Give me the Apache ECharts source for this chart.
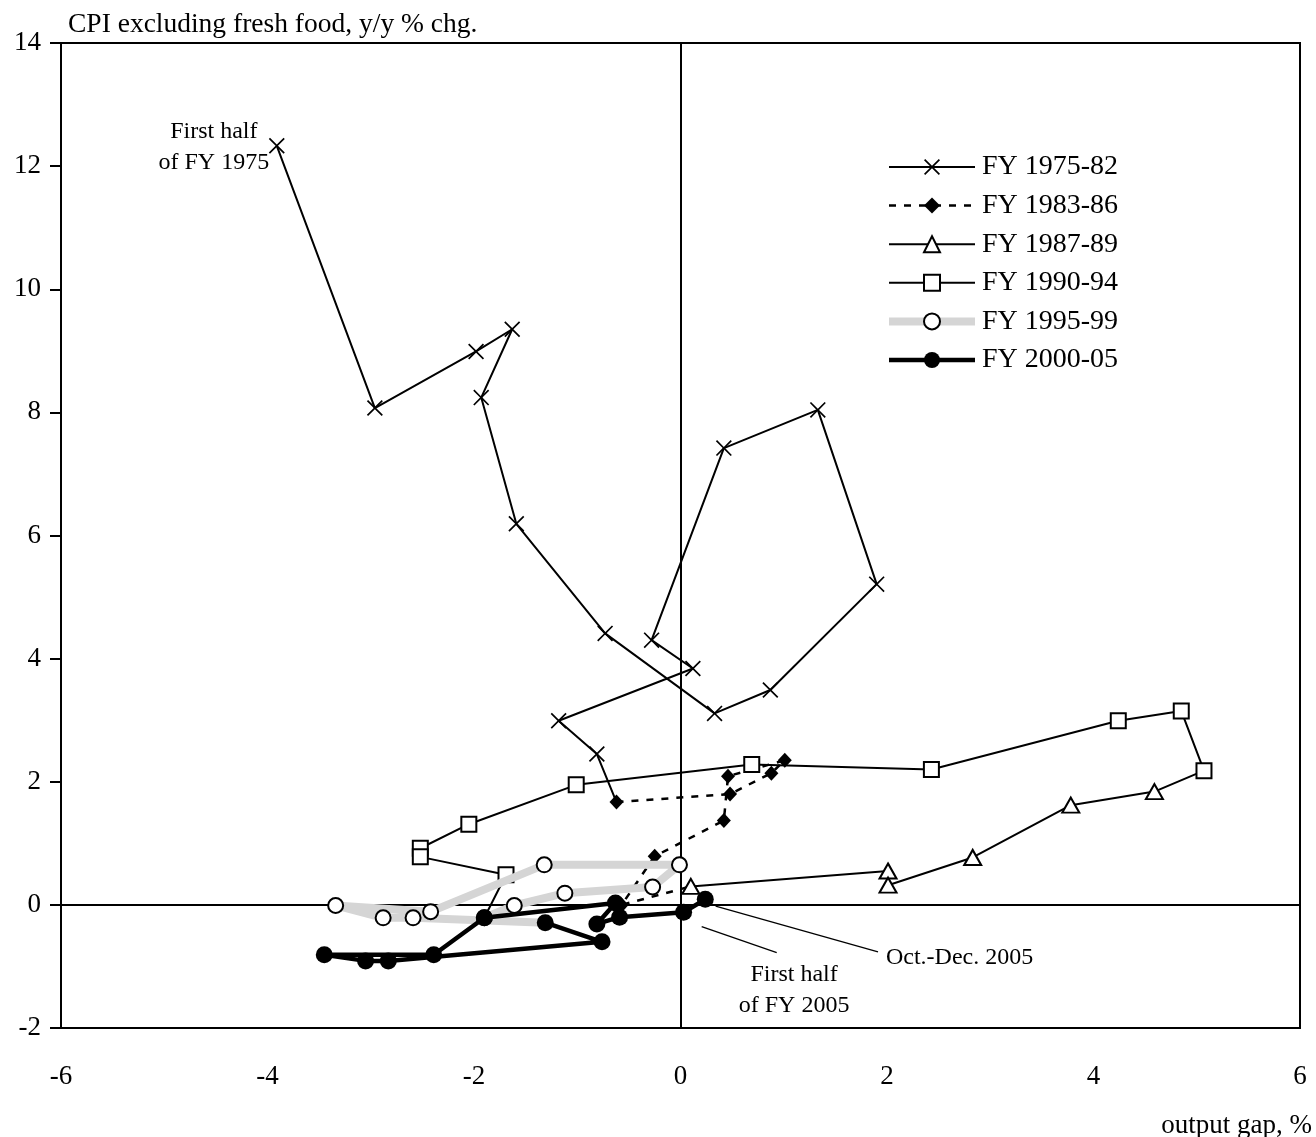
<!DOCTYPE html>
<html>
<head>
<meta charset="utf-8">
<script src="https://cdn.jsdelivr.net/npm/echarts@6/dist/echarts.min.js"></script>
<style>
html,body{margin:0;padding:0;background:#fff;}
#chart{width:1316px;height:1137px;}
</style>
</head>
<body>
<div id="chart"></div>
<script>
// ---- data (output gap %, CPI excl. fresh food y/y %) ----
const seriesNames = ['FY 1975-82','FY 1983-86','FY 1987-89','FY 1990-94','FY 1995-99','FY 2000-05'];
const fy7582_x = [-3.91,-2.96,-1.98,-1.63,-1.93,-1.59,-0.73,0.33,0.87,1.90,1.33,0.42,-0.28,0.12,-1.18,-0.81];
const fy7582_y = [12.33,8.07,8.99,9.35,8.24,6.19,4.41,3.11,3.49,5.21,8.04,7.42,4.30,3.84,2.99,2.45];
const fy8386_x = [-0.62,0.48,0.88,1.01,0.46,0.42,-0.25,-0.57];
const fy8386_y = [1.67,1.80,2.14,2.35,2.09,1.37,0.79,0.00];
const fy8789_x = [0.10,2.01,2.01,2.83,3.78,4.59];
const fy8789_y = [0.30,0.55,0.32,0.77,1.62,1.84];
const fy9094_x = [5.07,4.85,4.24,2.43,0.69,-1.01,-2.05,-2.52,-2.52,-1.69];
const fy9094_y = [2.18,3.15,2.99,2.20,2.28,1.95,1.31,0.92,0.78,0.49];
const fy9599_x = [-1.90,-1.61,-1.12,-0.27,-0.01,-1.32,-2.42,-3.34,-2.88,-2.59];
const fy9599_y = [-0.21,-0.01,0.19,0.29,0.65,0.65,-0.11,-0.01,-0.21,-0.21];
const fy0005_x = [-1.31,-0.76,-2.83,-3.05,-3.45,-2.39,-1.90,-0.63,-0.81,-0.59,0.03,0.24];
const fy0005_y = [-0.29,-0.60,-0.91,-0.91,-0.81,-0.81,-0.21,0.03,-0.31,-0.20,-0.12,0.09];
// annotations: [x, y] in data units
const annot1975 = [-4.52, 12.30];
const annot2005H1 = [1.10, -1.38];
const annotOctDec = [1.99, -0.86];
const leaderH1 = [[0.205,-0.354],[0.932,-0.776]];
const leaderOD = [[0.34,-0.02],[1.913,-0.765]];

const FONT = '"Liberation Serif","DejaVu Serif",serif';

function pts(xs, ys, nextX, nextY){
  const d = xs.map((x,i)=>[x, ys[i]]);
  if (nextX !== undefined) d.push({value:[nextX, nextY], symbol:'none'});
  return d;
}

const xPath = 'path://M0,1.5L1.5,0L10,8.5L18.5,0L20,1.5L11.5,10L20,18.5L18.5,20L10,11.5L1.5,20L0,18.5L8.5,10Z';

const styles = [
  {symbol:xPath, symbolSize:16, lineStyle:{color:'#000', width:2, type:'solid'}, itemStyle:{color:'#000', borderWidth:0}},
  {symbol:'diamond', symbolSize:[14,15], lineStyle:{color:'#000', width:2.5, type:[7,8]}, itemStyle:{color:'#000', borderWidth:0}},
  {symbol:'triangle', symbolSize:[17,15], lineStyle:{color:'#000', width:2, type:'solid'}, itemStyle:{color:'#fff', borderColor:'#000', borderWidth:2}},
  {symbol:'rect', symbolSize:15, lineStyle:{color:'#000', width:2, type:'solid'}, itemStyle:{color:'#fff', borderColor:'#000', borderWidth:2}},
  {symbol:'circle', symbolSize:15, lineStyle:{color:'#d5d5d5', width:8, type:'solid'}, itemStyle:{color:'#fff', borderColor:'#000', borderWidth:2}},
  {symbol:'circle', symbolSize:17, lineStyle:{color:'#000', width:4.5, type:'solid'}, itemStyle:{color:'#000', borderWidth:0}}
];

const chart = echarts.init(document.getElementById('chart'), null, {renderer:'canvas'});
const option = {
  animation:false,
  backgroundColor:'#fff',
  textStyle:{fontFamily:FONT, color:'#000'},
  grid:{left:61, right:16, top:43, bottom:109, show:true, borderColor:'#000', borderWidth:2, backgroundColor:'transparent'},
  xAxis:{type:'value', min:-6, max:6, interval:2,
    axisLine:{show:false, onZero:false}, axisTick:{show:false}, splitLine:{show:false},
    axisLabel:{fontFamily:FONT, fontSize:27, color:'#000', margin:35}
  },
  yAxis:{type:'value', min:-2, max:14, interval:2,
    axisLine:{show:true, onZero:false, lineStyle:{color:'#000', width:2}},
    axisTick:{show:true, inside:false, length:11, lineStyle:{color:'#000', width:2}},
    splitLine:{show:false},
    axisLabel:{fontFamily:FONT, fontSize:27, color:'#000', margin:20}
  },
  legend:{
    orient:'vertical', left:885, top:153, padding:0,
    itemWidth:86, itemHeight:20, itemGap:10.6,
    data:seriesNames.map((n,i)=>({name:n, lineStyle:{color:styles[i].lineStyle.color, width:styles[i].lineStyle.width, type:styles[i].lineStyle.type}})),
    textStyle:{fontFamily:FONT, fontSize:28, color:'#000', lineHeight:28, padding:[0,0,0,2]}
  },
  graphic:[
    {type:'text', left:68, top:11, style:{text:'CPI excluding fresh food, y/y % chg.', font:'27.5px "Liberation Serif"', fill:'#000'}},
    {type:'text', right:4, top:1112, style:{text:'output gap, %', font:'27px "Liberation Serif"', fill:'#000'}}
  ],
  series:[
    {name:'zero', type:'line', data:[], z:1, silent:true,
      markLine:{silent:true, symbol:'none', label:{show:false}, animation:false,
        lineStyle:{color:'#000', width:2, type:'solid'},
        data:[{xAxis:0},{yAxis:0}]}
    },
    Object.assign({name:seriesNames[0], type:'line', z:2,
      data:pts(fy7582_x, fy7582_y, fy8386_x[0], fy8386_y[0]),
      markPoint:{silent:true, symbol:'circle', symbolSize:0,
        label:{show:true, position:'inside', fontFamily:FONT, fontSize:24, color:'#000', lineHeight:31, align:'center',
          formatter:function(p){return p.name;}},
        data:[
          {name:'First half\nof FY 1975', coord:annot1975},
          {name:'First half\nof FY 2005', coord:annot2005H1},
          {name:'Oct.-Dec. 2005', coord:annotOctDec, label:{align:'left'}}
        ]},
      markLine:{silent:true, symbol:'none', label:{show:false},
        lineStyle:{color:'#000', width:1.3, type:'solid'},
        data:[
          [{coord:leaderH1[0]},{coord:leaderH1[1]}],
          [{coord:leaderOD[0]},{coord:leaderOD[1]}]
        ]}
    }, styles[0]),
    Object.assign({name:seriesNames[1], type:'line', z:3,
      data:pts(fy8386_x, fy8386_y, fy8789_x[0], fy8789_y[0])}, styles[1]),
    Object.assign({name:seriesNames[2], type:'line', z:4,
      data:pts(fy8789_x, fy8789_y, fy9094_x[0], fy9094_y[0])}, styles[2]),
    Object.assign({name:seriesNames[3], type:'line', z:5,
      data:pts(fy9094_x, fy9094_y, fy9599_x[0], fy9599_y[0])}, styles[3]),
    Object.assign({name:seriesNames[4], type:'line', z:6,
      data:pts(fy9599_x, fy9599_y, fy0005_x[0], fy0005_y[0])}, styles[4]),
    Object.assign({name:seriesNames[5], type:'line', z:7,
      data:pts(fy0005_x, fy0005_y)}, styles[5])
  ]
};
chart.setOption(option);
</script>
</body>
</html>
